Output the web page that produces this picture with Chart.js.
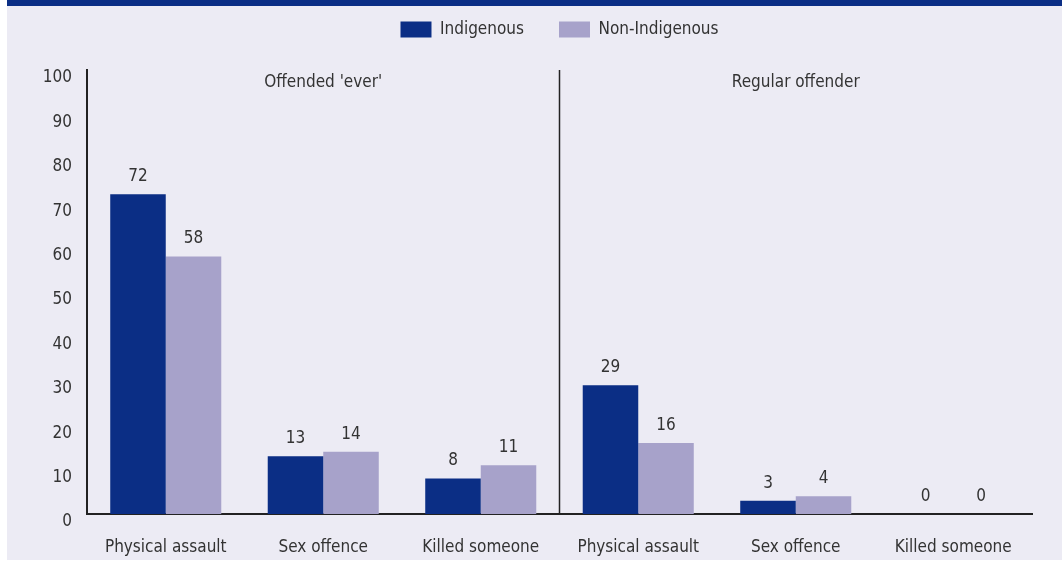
<!DOCTYPE html>
<html>
<head>
<meta charset="utf-8">
<script src="https://cdn.jsdelivr.net/npm/chart.js@4.4.0/dist/chart.umd.min.js"></script>
<style>
  html, body { margin: 0; padding: 0; background: #ffffff; }
  #wrap { position: absolute; left: 0; top: 0; width: 1062px; height: 562px; }
</style>
</head>
<body>
<div id="wrap"><canvas id="myChart" width="1062" height="562"></canvas></div>
<script>
// data
const categories = ['Physical assault', 'Sex offence', 'Killed someone',
                    'Physical assault', 'Sex offence', 'Killed someone'];
const groupLabels = ["Offended 'ever'", 'Regular offender'];
const indigenous = [72, 13, 8, 29, 3, 0];
const nonIndigenous = [58, 14, 11, 16, 4, 0];
const yTicks = [0, 10, 20, 30, 40, 50, 60, 70, 80, 90, 100];

const NAVY = '#0b2e85';
const LILAC = '#a7a2ca';
const BG = '#ecebf4';
const TEXT = '#333333';
const FONT = "'DejaVu Sans Condensed', sans-serif";
const FSIZE = 17;

// background, top band, divider, group titles and value labels
const decor = {
    id: 'decor',
    beforeLayout: function(chart) {
        // make the legend block taller so the plot starts lower
        const lg = chart.legend;
        if (lg && !lg._tall) {
            const fit = lg.fit;
            lg.fit = function() {
                fit.call(this);
                this.height = 84;
            };
            lg._tall = true;
        }
    },
    afterLayout: function(chart) {
        // centre the legend over the plot area, not the whole canvas
        if (chart.legend) {
            chart.legend.left = chart.chartArea.left;
            chart.legend.right = chart.chartArea.right;
        }
    },
    beforeDraw: function(chart) {
        const ctx = chart.ctx;
        ctx.save();
        ctx.fillStyle = '#ffffff';
        ctx.fillRect(0, 0, chart.width, chart.height);
        ctx.fillStyle = BG;
        ctx.fillRect(7, 0, chart.width - 7, chart.height - 2);
        ctx.fillStyle = NAVY;
        ctx.fillRect(7, 0, chart.width - 7, 6);
        ctx.restore();
    },
    afterDatasetsDraw: function(chart) {
        const ctx = chart.ctx;
        const area = chart.chartArea;
        const x = chart.scales.x;
        ctx.save();
        // divider between the two groups
        const mid = (x.getPixelForValue(2) + x.getPixelForValue(3)) / 2;
        ctx.strokeStyle = '#222222';
        ctx.lineWidth = 1.5;
        ctx.beginPath();
        ctx.moveTo(mid, area.top);
        ctx.lineTo(mid, area.bottom);
        ctx.stroke();

        ctx.font = FSIZE + 'px ' + FONT;
        ctx.fillStyle = TEXT;
        ctx.textAlign = 'center';
        ctx.textBaseline = 'middle';
        ctx.fillText(groupLabels[0], (area.left + mid) / 2, 83);
        ctx.fillText(groupLabels[1], (mid + area.right) / 2, 83);

        ctx.textBaseline = 'alphabetic';
        chart.data.datasets.forEach(function(ds, i) {
            chart.getDatasetMeta(i).data.forEach(function(bar, j) {
                ctx.fillText(String(ds.data[j]), bar.x, bar.y - 13);
            });
        });
        ctx.restore();
    }
};

const ctx = document.getElementById('myChart').getContext('2d');
const chart = new Chart(ctx, {
    type: 'bar',
    data: {
        labels: categories,
        datasets: [{
            label: 'Indigenous',
            backgroundColor: NAVY,
            data: indigenous
        }, {
            label: 'Non-Indigenous',
            backgroundColor: LILAC,
            data: nonIndigenous
        }]
    },
    options: {
        responsive: false,
        animation: false,
        layout: { padding: { left: 0, right: 30, top: -14, bottom: 0 } },
        categoryPercentage: 0.705,
        barPercentage: 1.0,
        plugins: {
            legend: {
                position: 'top',
                labels: {
                    boxWidth: 31,
                    boxHeight: 16,
                    padding: 35,
                    color: TEXT,
                    font: { family: FONT, size: FSIZE }
                }
            },
            tooltip: { enabled: false }
        },
        scales: {
            x: {
                grid: { display: false, drawTicks: false },
                border: { display: true, color: '#222222', width: 2 },
                ticks: {
                    color: TEXT,
                    padding: 23,
                    maxRotation: 0,
                    autoSkip: false,
                    font: { family: FONT, size: FSIZE }
                },
                afterFit: function(scale) { scale.height = 48; }
            },
            y: {
                min: 0,
                max: 100,
                grid: { display: false, drawTicks: false },
                border: { display: true, color: '#222222', width: 2 },
                afterBuildTicks: function(scale) {
                    scale.ticks = yTicks.map(function(v) { return { value: v }; });
                },
                ticks: {
                    color: TEXT,
                    padding: 15,
                    labelOffset: 8,
                    font: { family: FONT, size: FSIZE }
                },
                afterFit: function(scale) { scale.width = 87; }
            }
        }
    },
    plugins: [decor]
});
</script>
</body>
</html>
